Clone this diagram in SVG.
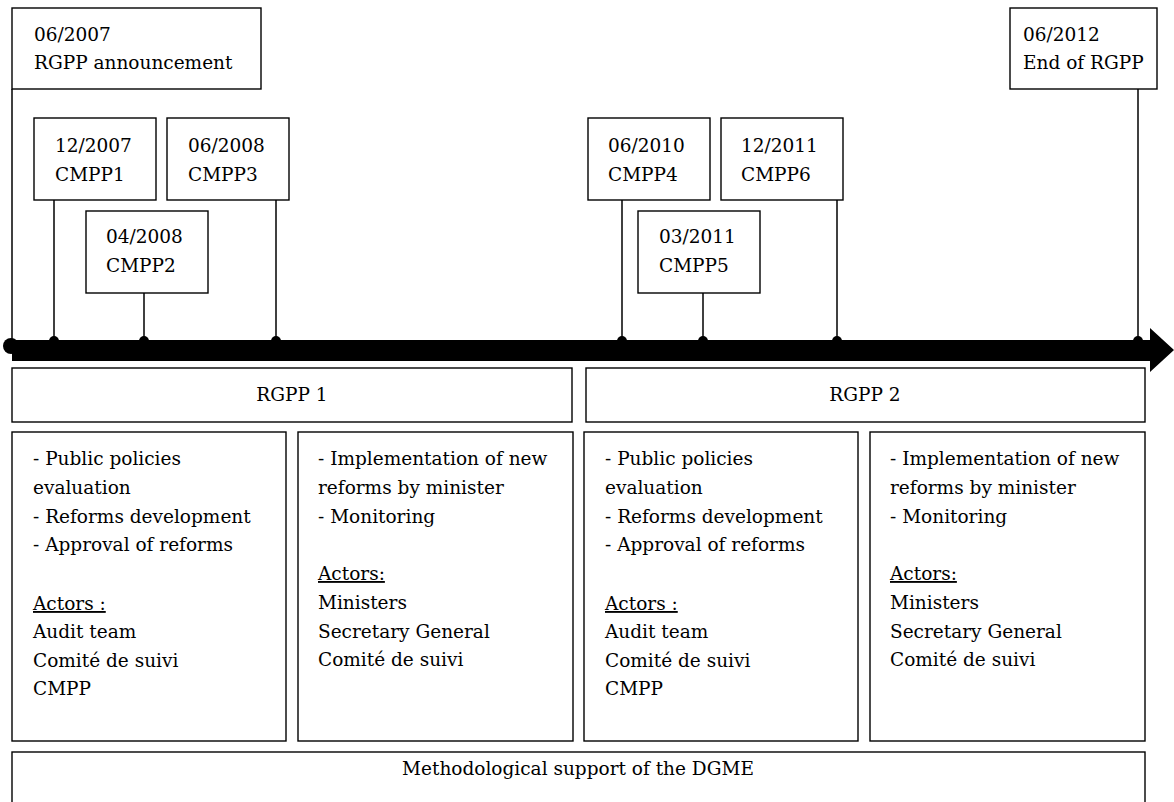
<svg xmlns="http://www.w3.org/2000/svg" width="1174" height="802" viewBox="0 0 1174 802">
  <style>
    .box { fill: #fff; stroke: #000; stroke-width: 1.4; }
    .tick { stroke: #000; stroke-width: 1.5; fill: none; }
    .dot { fill: #000; }
    text { font-family: "DejaVu Serif", "Liberation Serif", serif; font-size: 18.5px; fill: #000; }
    .mid { text-anchor: middle; }
    .u { text-decoration: underline; }
  </style>
  <rect width="1174" height="802" fill="#fff"/>

  <!-- connectors: event ticks down to the time axis -->
  <g id="connectors">
    <line class="tick" x1="12" y1="89" x2="12" y2="342"/>
    <line class="tick" x1="54" y1="200" x2="54" y2="342"/>
    <line class="tick" x1="144" y1="293" x2="144" y2="342"/>
    <line class="tick" x1="276" y1="200" x2="276" y2="342"/>
    <line class="tick" x1="622" y1="200" x2="622" y2="342"/>
    <line class="tick" x1="703" y1="293" x2="703" y2="342"/>
    <line class="tick" x1="837" y1="200" x2="837" y2="342"/>
    <line class="tick" x1="1138" y1="89" x2="1138" y2="342"/>
    <circle class="dot" cx="54" cy="341" r="5"/>
    <circle class="dot" cx="144" cy="341" r="5"/>
    <circle class="dot" cx="276" cy="341" r="5"/>
    <circle class="dot" cx="622" cy="341" r="5"/>
    <circle class="dot" cx="703" cy="341" r="5"/>
    <circle class="dot" cx="837" cy="341" r="5"/>
    <circle class="dot" cx="1138" cy="341" r="5"/>
  </g>

  <!-- time axis -->
  <g id="axis">
    <circle class="dot" cx="11" cy="346" r="8"/>
    <polygon class="dot" points="12,340 1150,340 1150,328 1174,350 1150,372 1150,361 12,361"/>
  </g>

  <g id="ev-2007-06">
    <rect class="box" x="12" y="8" width="249" height="81"/>
    <text x="34" y="41">06/2007</text>
    <text x="34" y="69">RGPP announcement</text>
  </g>
  <g id="ev-2007-12">
    <rect class="box" x="34" y="118" width="122" height="82"/>
    <text x="55" y="152">12/2007</text>
    <text x="55" y="181">CMPP1</text>
  </g>
  <g id="ev-2008-04">
    <rect class="box" x="86" y="211" width="122" height="82"/>
    <text x="106" y="243">04/2008</text>
    <text x="106" y="272">CMPP2</text>
  </g>
  <g id="ev-2008-06">
    <rect class="box" x="167" y="118" width="122" height="82"/>
    <text x="188" y="152">06/2008</text>
    <text x="188" y="181">CMPP3</text>
  </g>
  <g id="ev-2010-06">
    <rect class="box" x="588" y="118" width="122" height="82"/>
    <text x="608" y="152">06/2010</text>
    <text x="608" y="181">CMPP4</text>
  </g>
  <g id="ev-2011-03">
    <rect class="box" x="638" y="211" width="122" height="82"/>
    <text x="659" y="243">03/2011</text>
    <text x="659" y="272">CMPP5</text>
  </g>
  <g id="ev-2011-12">
    <rect class="box" x="721" y="118" width="122" height="82"/>
    <text x="741" y="152">12/2011</text>
    <text x="741" y="181">CMPP6</text>
  </g>
  <g id="ev-2012-06">
    <rect class="box" x="1010" y="8" width="147" height="81"/>
    <text x="1023" y="41">06/2012</text>
    <text x="1023" y="69">End of RGPP</text>
  </g>

  <g id="phase-rgpp1">
    <rect class="box" x="12" y="368" width="560" height="54"/>
    <text class="mid" x="292" y="401">RGPP 1</text>
  </g>
  <g id="phase-rgpp2">
    <rect class="box" x="586" y="368" width="559" height="54"/>
    <text class="mid" x="865" y="401">RGPP 2</text>
  </g>

  <g id="rgpp1-design">
    <rect class="box" x="12" y="432" width="274" height="309"/>
    <text x="33" y="465">- Public policies</text>
    <text x="33" y="494">evaluation</text>
    <text x="33" y="523">- Reforms development</text>
    <text x="33" y="551">- Approval of reforms</text>
    <text class="u" x="33" y="610">Actors :</text>
    <text x="33" y="638">Audit team</text>
    <text x="33" y="667">Comité de suivi</text>
    <text x="33" y="695">CMPP</text>
  </g>
  <g id="rgpp1-implementation">
    <rect class="box" x="298" y="432" width="275" height="309"/>
    <text x="318" y="465">- Implementation of new</text>
    <text x="318" y="494">reforms by minister</text>
    <text x="318" y="523">- Monitoring</text>
    <text class="u" x="318" y="580">Actors:</text>
    <text x="318" y="609">Ministers</text>
    <text x="318" y="638">Secretary General</text>
    <text x="318" y="666">Comité de suivi</text>
  </g>
  <g id="rgpp2-design">
    <rect class="box" x="584" y="432" width="274" height="309"/>
    <text x="605" y="465">- Public policies</text>
    <text x="605" y="494">evaluation</text>
    <text x="605" y="523">- Reforms development</text>
    <text x="605" y="551">- Approval of reforms</text>
    <text class="u" x="605" y="610">Actors :</text>
    <text x="605" y="638">Audit team</text>
    <text x="605" y="667">Comité de suivi</text>
    <text x="605" y="695">CMPP</text>
  </g>
  <g id="rgpp2-implementation">
    <rect class="box" x="870" y="432" width="275" height="309"/>
    <text x="890" y="465">- Implementation of new</text>
    <text x="890" y="494">reforms by minister</text>
    <text x="890" y="523">- Monitoring</text>
    <text class="u" x="890" y="580">Actors:</text>
    <text x="890" y="609">Ministers</text>
    <text x="890" y="638">Secretary General</text>
    <text x="890" y="666">Comité de suivi</text>
  </g>

  <g id="dgme-support">
    <rect class="box" x="12" y="752" width="1133" height="70"/>
    <text class="mid" x="578" y="775">Methodological support of the DGME</text>
  </g>
</svg>
